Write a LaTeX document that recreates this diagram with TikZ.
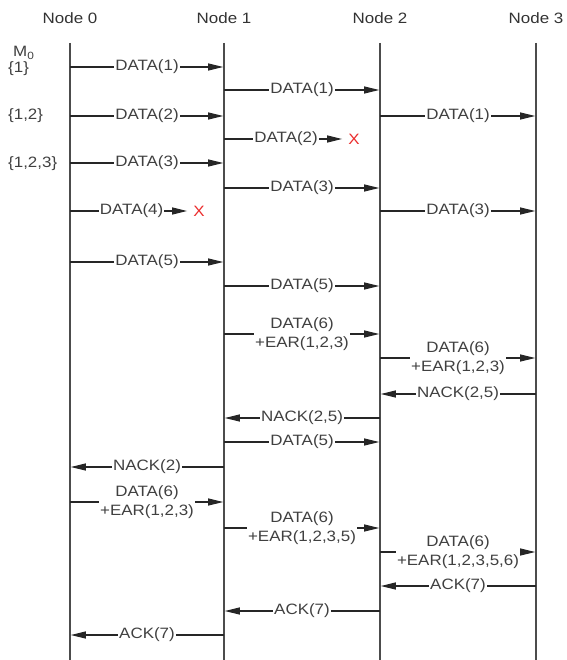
\documentclass[tikz,border=0pt]{standalone}
\usepackage{fontspec}
\setmainfont{Liberation Sans}[FakeStretch=1.13]
\usetikzlibrary{arrows.meta,positioning,calc}
\definecolor{lostred}{RGB}{235,45,45}

\begin{document}
\begin{tikzpicture}[
  x=1pt, y=-1pt,
  hdr/.style={inner sep=0pt, font=\fontsize{15}{18}\selectfont, text=black!80},
  life/.style={draw=black!70, line width=1.6pt},
  msg/.style={-{Triangle[length=15pt,width=7pt]}, draw=black!85, line width=1.2pt, shorten >=0.8pt},
  lbl/.style={fill=white, inner xsep=1pt, inner ysep=0.5pt, align=center,
              font=\fontsize{15}{19.5}\selectfont, text=black!75},
  lost/.style={inner sep=0pt, font=\fontsize{15}{18}\selectfont, text=lostred},
  mset/.style={anchor=west, inner sep=0pt, font=\fontsize{15}{18}\selectfont, text=black!75}
]
  \useasboundingbox (0,0) rectangle (566,660);

  % nodes and lifelines
  \node[hdr] (node0) at (70,18)  {Node 0};
  \node[hdr] (node1) at (224,18) {Node 1};
  \node[hdr] (node2) at (380,18) {Node 2};
  \node[hdr] (node3) at (536,18) {Node 3};
  \draw[life] (node0 |- 0,43) -- (node0 |- 0,660);
  \draw[life] (node1 |- 0,43) -- (node1 |- 0,660);
  \draw[life] (node2 |- 0,43) -- (node2 |- 0,660);
  \draw[life] (node3 |- 0,43) -- (node3 |- 0,660);

  % buffered messages at node 0
  \node[mset] (mhead) at (13,53)  {M\textsubscript{0}};
  \node[mset] (mset1) at (8,69)   {\{1\}};
  \node[mset] (mset2) at (8,116)  {\{1,2\}};
  \node[mset] (mset3) at (8,164)  {\{1,2,3\}};

  % lost packets
  \node[lost] (lost2) at (354,139) {X};
  \node[lost] (lost4) at (199,211) {X};

  % data phase
  \draw[msg] (node0 |- 0,67)  -- node[lbl] {DATA(1)} (node1 |- 0,67);
  \draw[msg] (node1 |- 0,90)  -- node[lbl] {DATA(1)} (node2 |- 0,90);
  \draw[msg] (node0 |- 0,116) -- node[lbl] {DATA(2)} (node1 |- 0,116);
  \draw[msg] (node2 |- 0,116) -- node[lbl] {DATA(1)} (node3 |- 0,116);
  \draw[msg, shorten >=6pt] (node1 |- lost2) -- node[lbl] {DATA(2)} (lost2.west);
  \draw[msg] (node0 |- 0,163) -- node[lbl] {DATA(3)} (node1 |- 0,163);
  \draw[msg] (node1 |- 0,188) -- node[lbl] {DATA(3)} (node2 |- 0,188);
  \draw[msg] (node2 |- 0,211) -- node[lbl] {DATA(3)} (node3 |- 0,211);
  \draw[msg, shorten >=6pt] (node0 |- lost4) -- node[lbl] {DATA(4)} (lost4.west);
  \draw[msg] (node0 |- 0,262) -- node[lbl] {DATA(5)} (node1 |- 0,262);
  \draw[msg] (node1 |- 0,286) -- node[lbl] {DATA(5)} (node2 |- 0,286);
  \draw[msg] (node1 |- 0,334) -- node[lbl] {DATA(6)\\+EAR(1,2,3)} (node2 |- 0,334);
  \draw[msg] (node2 |- 0,358) -- node[lbl] {DATA(6)\\+EAR(1,2,3)} (node3 |- 0,358);

  % recovery
  \draw[msg] (node3 |- 0,394) -- node[lbl] {NACK(2,5)} (node2 |- 0,394);
  \draw[msg] (node2 |- 0,418) -- node[lbl] {NACK(2,5)} (node1 |- 0,418);
  \draw[msg] (node1 |- 0,442) -- node[lbl] {DATA(5)} (node2 |- 0,442);
  \draw[msg] (node1 |- 0,467) -- node[lbl] {NACK(2)} (node0 |- 0,467);
  \draw[msg] (node0 |- 0,502) -- node[lbl] {DATA(6)\\+EAR(1,2,3)} (node1 |- 0,502);
  \draw[msg] (node1 |- 0,528) -- node[lbl] {DATA(6)\\+EAR(1,2,3,5)} (node2 |- 0,528);
  \draw[msg] (node2 |- 0,552) -- node[lbl] {DATA(6)\\+EAR(1,2,3,5,6)} (node3 |- 0,552);

  % acknowledgements
  \draw[msg] (node3 |- 0,586) -- node[lbl] {ACK(7)} (node2 |- 0,586);
  \draw[msg] (node2 |- 0,611) -- node[lbl] {ACK(7)} (node1 |- 0,611);
  \draw[msg] (node1 |- 0,635) -- node[lbl] {ACK(7)} (node0 |- 0,635);
\end{tikzpicture}
\end{document}
